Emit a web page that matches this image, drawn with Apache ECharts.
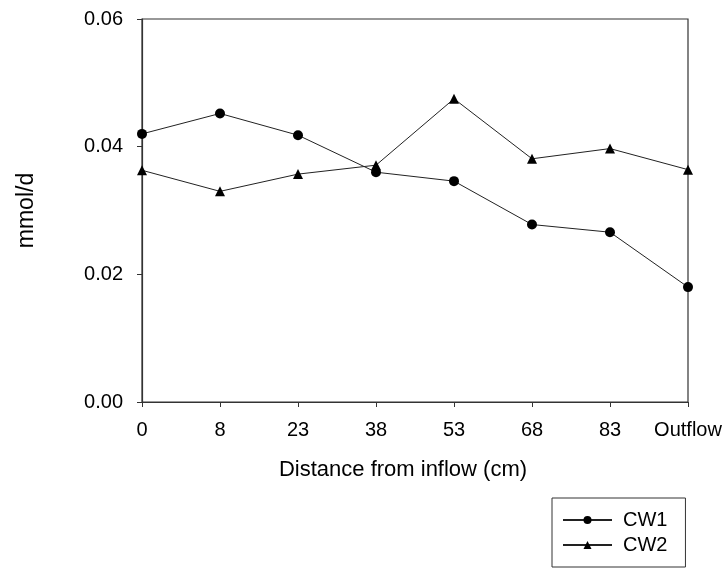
<!DOCTYPE html>
<html lang="en">

<head>
    <meta charset="UTF-8">
    <title>mmol/d vs distance</title>
    <script type="text/javascript" src="https://cdn.jsdelivr.net/npm/echarts@6/dist/echarts.min.js"></script>
    <style>
        body {
            margin: 0;
            background-color: #ffffff;
            overflow: hidden;
        }
    </style>
</head>

<body>
    <div style="width: 725px; height: 568px" id="container"></div>
</body>
<script>
    var dom = document.getElementById("container");
    var myChart = echarts.init(dom);

    // data
    let distances = ['0', '8', '23', '38', '53', '68', '83', 'Outflow'];
    let cw1 = [0.0420, 0.0452, 0.0418, 0.0360, 0.0346, 0.0278, 0.0266, 0.0180];
    let cw2 = [0.0363, 0.0330, 0.0357, 0.0371, 0.0475, 0.0381, 0.0397, 0.0364];
    let yTicks = [0, 0.02, 0.04, 0.06];

    let font = '"Liberation Sans", Arial, sans-serif';
    let axisColor = '#333333';

    var option = {
        backgroundColor: '#ffffff',
        animation: false,
        grid: {
            left: 142,
            right: 37,
            top: 19,
            bottom: 166,
            show: true,
            borderColor: axisColor,
            borderWidth: 1.2
        },
        legend: {
            orient: 'vertical',
            left: 552,
            top: 498,
            padding: [12, 18, 12, 10],
            itemGap: 5,
            itemWidth: 49,
            itemHeight: 10,
            borderColor: axisColor,
            borderWidth: 1,
            textStyle: {
                fontFamily: font,
                fontSize: 20,
                color: '#000',
                padding: [0, 0, 0, 6]
            },
            data: ['CW1', 'CW2']
        },
        xAxis: {
            type: 'category',
            data: distances,
            boundaryGap: false,
            name: 'Distance from inflow (cm)',
            nameLocation: 'middle',
            nameGap: 57,
            nameTextStyle: {
                fontFamily: font,
                fontSize: 22,
                color: '#000',
                padding: [0, 24, 0, 0]
            },
            axisLine: { lineStyle: { color: axisColor, width: 1.2 } },
            axisTick: { show: true, alignWithLabel: true, interval: 0, length: 5, lineStyle: { color: axisColor } },
            axisLabel: {
                fontFamily: font,
                fontSize: 20,
                color: '#000',
                margin: 18,
                interval: 0,
                hideOverlap: false
            },
            splitLine: { show: false }
        },
        yAxis: {
            type: 'value',
            min: yTicks[0],
            max: yTicks[yTicks.length - 1],
            interval: yTicks[1] - yTicks[0],
            name: 'mmol/d',
            nameLocation: 'middle',
            nameGap: 104,
            nameRotate: 90,
            nameTextStyle: {
                fontFamily: font,
                fontSize: 23,
                color: '#000'
            },
            axisLine: { show: true, lineStyle: { color: axisColor, width: 1.2 } },
            axisTick: { show: true, length: 5, lineStyle: { color: axisColor } },
            axisLabel: {
                fontFamily: font,
                fontSize: 20,
                color: '#000',
                margin: 19,
                formatter: v => v.toFixed(2)
            },
            splitLine: { show: false }
        },
        series: [{
            name: 'CW1',
            type: 'line',
            data: cw1,
            symbol: 'circle',
            symbolSize: 10,
            itemStyle: { color: '#000' },
            lineStyle: { color: '#222', width: 1 }
        }, {
            name: 'CW2',
            type: 'line',
            data: cw2,
            symbol: 'triangle',
            symbolSize: 10,
            itemStyle: { color: '#000' },
            lineStyle: { color: '#222', width: 1 }
        }]
    };
    if (option && typeof option === 'object') {
        myChart.setOption(option);
    }
</script>

</html>
